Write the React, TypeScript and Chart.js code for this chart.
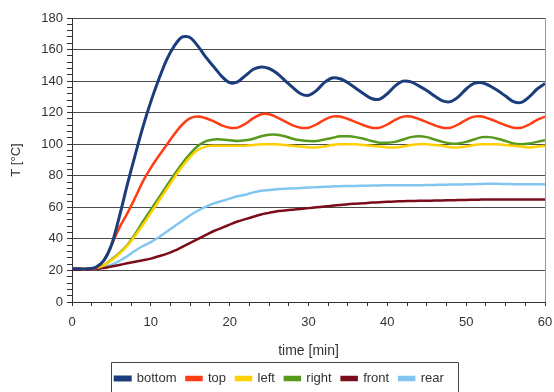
import React, { useEffect, useRef } from 'react';
import { Chart, registerables } from 'chart.js';

Chart.register(...registerables);

const minutes = Array.from({ length: 61 }, (_, i) => i);

const bottomSeries = [
  21, 21, 21, 22, 26, 36, 54, 74, 93, 111, 127, 141, 153.5, 162.5, 168, 167.5, 162, 155, 149, 143,
  139, 139.5, 143.5, 147.5, 149, 148, 145, 140.5, 136, 132, 131, 134, 139, 142, 141.5, 139, 135.5, 132, 129, 128.5,
  132, 137, 140, 139.5, 137, 134, 130.5, 127.5, 127, 130, 135, 138.5, 139, 137, 134, 130.5, 127, 126.5, 130, 135,
  138.5,
];
const topSeries = [
  21, 21, 21, 21.5, 26, 36, 47, 56, 66, 76.5, 85, 92.5, 99.5, 106.5, 112.5, 116.5, 117.5, 116.5, 114.5, 112,
  110.5, 110.5, 113, 116.5, 119, 119, 117, 114.5, 112, 110.5, 110.5, 112.5, 115.5, 117.5, 117.5, 116, 114, 112, 110.5, 110.5,
  112.5, 115.5, 117.5, 117.5, 116, 114, 112, 110.5, 110.5, 112.5, 115.5, 117.5, 117.5, 116, 114, 112, 110.5, 110.5, 112.5, 115.5,
  117.5,
];
const leftSeries = [
  21, 21, 21, 21.5, 23, 26.5, 30.5, 35.5, 42, 49, 56.5, 64, 71.5, 79, 86, 92, 96.5, 98.5, 99, 99,
  99, 99, 99, 99.5, 100, 100, 100, 99.5, 99, 98.5, 98, 98, 98.5, 99.5, 100, 100, 100, 99.5, 99, 98.5,
  98, 98, 98.5, 99.5, 100, 100, 99.5, 99, 98, 98, 98.5, 99.5, 100, 100, 100, 99.5, 99, 98.5, 98, 98.5,
  99,
];
const rightSeries = [
  21, 21, 21, 21.5, 23, 27, 31, 36, 43, 51, 58.5, 66, 73.5, 81, 88, 94, 99, 102, 103, 103,
  102.5, 102, 102.5, 103.5, 105, 106, 106, 105, 103.5, 102.5, 102, 102, 103, 104, 105, 105, 104.5, 103.5, 102, 101,
  101, 101.5, 103, 104.5, 105, 104.5, 103, 101.5, 100.5, 100.5, 101.5, 103, 104.5, 104.5, 103.5, 102, 100.5, 100, 100.5, 101.5,
  102.5,
];
const frontSeries = [
  20.5, 20.5, 20.5, 21, 21.5, 22.5, 23.5, 24.5, 25.5, 26.5, 27.5, 29, 30.5, 32.5, 35, 37.5, 40, 42.5, 45, 47,
  49, 51, 52.5, 54, 55.5, 56.5, 57.5, 58, 58.5, 59, 59.5, 60, 60.5, 61, 61.5, 62, 62.3, 62.6, 63, 63.2,
  63.5, 63.7, 63.9, 64, 64.1, 64.2, 64.3, 64.4, 64.5, 64.6, 64.7, 64.8, 64.9, 65, 65, 65, 65, 65, 65, 65,
  65,
];
const rearSeries = [
  20.5, 20.5, 20.5, 21, 22, 23.5, 26, 29, 32.5, 35.5, 38, 41, 44.5, 48, 51.5, 55, 58, 60.5, 62.5, 64,
  65.5, 67, 68, 69.5, 70.5, 71, 71.5, 71.8, 72, 72.3, 72.5, 72.8, 73, 73.2, 73.4, 73.5, 73.6, 73.7, 73.8, 73.9,
  74, 74, 74, 74, 74, 74.1, 74.2, 74.3, 74.4, 74.5, 74.6, 74.7, 74.8, 75, 74.9, 74.8, 74.7, 74.6, 74.6, 74.6,
  74.5,
];

const seriesNames = ['bottom', 'top', 'left', 'right', 'front', 'rear'];
const seriesValues = [bottomSeries, topSeries, leftSeries, rightSeries, frontSeries, rearSeries];
const seriesColors = ['#1b3d7c', '#ff3c14', '#ffd000', '#589a1c', '#7a0c1c', '#82c6f0'];
const seriesWidths = [3, 2.5, 2.5, 2.5, 2.5, 2.5];

const xTitle = 'time [min]';
const yTitle = 'T [°C]';

const FONT = '"Liberation Sans", Arial, Helvetica, sans-serif';
const TEXT = '#333333';

export default function App() {
  const ref = useRef<HTMLCanvasElement>(null);

  useEffect(() => {
    document.body.style.margin = '0';
    const canvas = ref.current;
    if (!canvas) return;

    const framePlugin = {
      id: 'frame',
      beforeDatasetsDraw(chart: any) {
        const { ctx, chartArea } = chart;
        ctx.save();
        ctx.strokeStyle = '#999999';
        ctx.lineWidth = 1;
        ctx.beginPath();
        ctx.moveTo(Math.round(chartArea.right) + 0.5, chartArea.top);
        ctx.lineTo(Math.round(chartArea.right) + 0.5, chartArea.bottom);
        ctx.stroke();
        ctx.restore();
      },
    };

    const legendPlugin = {
      id: 'legendFrame',
      afterLayout(chart: any) {
        const lg = chart.legend;
        if (lg) {
          lg.left += 5;
          lg.right += 5;
        }
      },
      afterDraw(chart: any) {
        const lg = chart.legend;
        if (!lg || !lg.lineWidths) return;
        const pad = 10;
        const rowW = lg.lineWidths[0];
        const start = (lg.left + pad + lg.right - rowW) / 2;
        const x0 = Math.round(start - 4) + 0.5;
        const x1 = Math.round(start + rowW - pad + 14) + 0.5;
        const y0 = Math.round(lg.top) + 0.5;
        const { ctx } = chart;
        ctx.save();
        ctx.strokeStyle = '#444444';
        ctx.lineWidth = 1;
        ctx.beginPath();
        ctx.moveTo(x0, 400);
        ctx.lineTo(x0, y0);
        ctx.lineTo(x1, y0);
        ctx.lineTo(x1, 400);
        ctx.stroke();
        ctx.restore();
      },
    };

    const chart = new Chart(canvas, {
      type: 'line',
      data: {
        labels: minutes,
        datasets: seriesNames.map((name, i) => ({
          label: name,
          data: seriesValues[i].map((v, j) => ({ x: minutes[j], y: v })),
          borderColor: seriesColors[i],
          backgroundColor: seriesColors[i],
          borderWidth: seriesWidths[i],
          pointRadius: 0,
          pointHoverRadius: 0,
          tension: 0.3,
          fill: false,
        })),
      },
      options: {
        animation: false,
        responsive: false,
        devicePixelRatio: 1,
        events: [],
        layout: { padding: { left: 4, right: 9, top: 18, bottom: -3 } },
        plugins: {
          tooltip: { enabled: false },
          legend: {
            position: 'bottom',
            labels: {
              boxWidth: 15,
              boxHeight: 3,
              padding: 10,
              color: TEXT,
              font: { family: FONT, size: 13 },
            },
          },
        },
        scales: {
          x: {
            type: 'linear',
            min: 0,
            max: 60,
            ticks: {
              stepSize: 2.5,
              autoSkip: false,
              maxRotation: 0,
              padding: 9,
              color: TEXT,
              font: { family: FONT, size: 13 },
              callback: (v: any) => (Number(v) % 10 === 0 ? String(v) : ''),
            },
            grid: { drawOnChartArea: false, color: '#333333', tickColor: '#333333', tickLength: 4 },
            border: { color: '#333333', width: 1 },
            title: {
              display: true,
              text: xTitle,
              color: TEXT,
              font: { family: FONT, size: 14 },
              padding: { top: 0, bottom: 2 },
            },
            afterFit: (s: any) => {
              s.height = 60;
              s.paddingLeft = 0;
              s.paddingRight = 0;
            },
          },
          y: {
            min: 0,
            max: 180,
            ticks: {
              stepSize: 4,
              autoSkip: false,
              padding: 4,
              color: TEXT,
              font: { family: FONT, size: 13 },
              callback: (v: any) => (Number(v) % 20 === 0 ? String(v) : ''),
            },
            grid: {
              color: (c: any) => (c.tick && c.tick.value % 20 === 0 && c.tick.value > 0 ? '#4a4a4a' : 'rgba(0,0,0,0)'),
              tickColor: '#333333',
              tickLength: 5,
              lineWidth: 1,
            },
            border: { color: '#333333', width: 1 },
            title: {
              display: true,
              text: yTitle,
              color: TEXT,
              font: { family: FONT, size: 13 },
              padding: { top: 5, bottom: 0 },
            },
            afterFit: (s: any) => {
              s.width = 68;
            },
          },
        },
      },
      plugins: [framePlugin, legendPlugin],
    } as any);

    return () => chart.destroy();
  }, []);

  return (
    <div style={{ width: 554, height: 392 }}>
      <canvas ref={ref} width={554} height={392} style={{ display: 'block', width: 554, height: 392 }} />
    </div>
  );
}
